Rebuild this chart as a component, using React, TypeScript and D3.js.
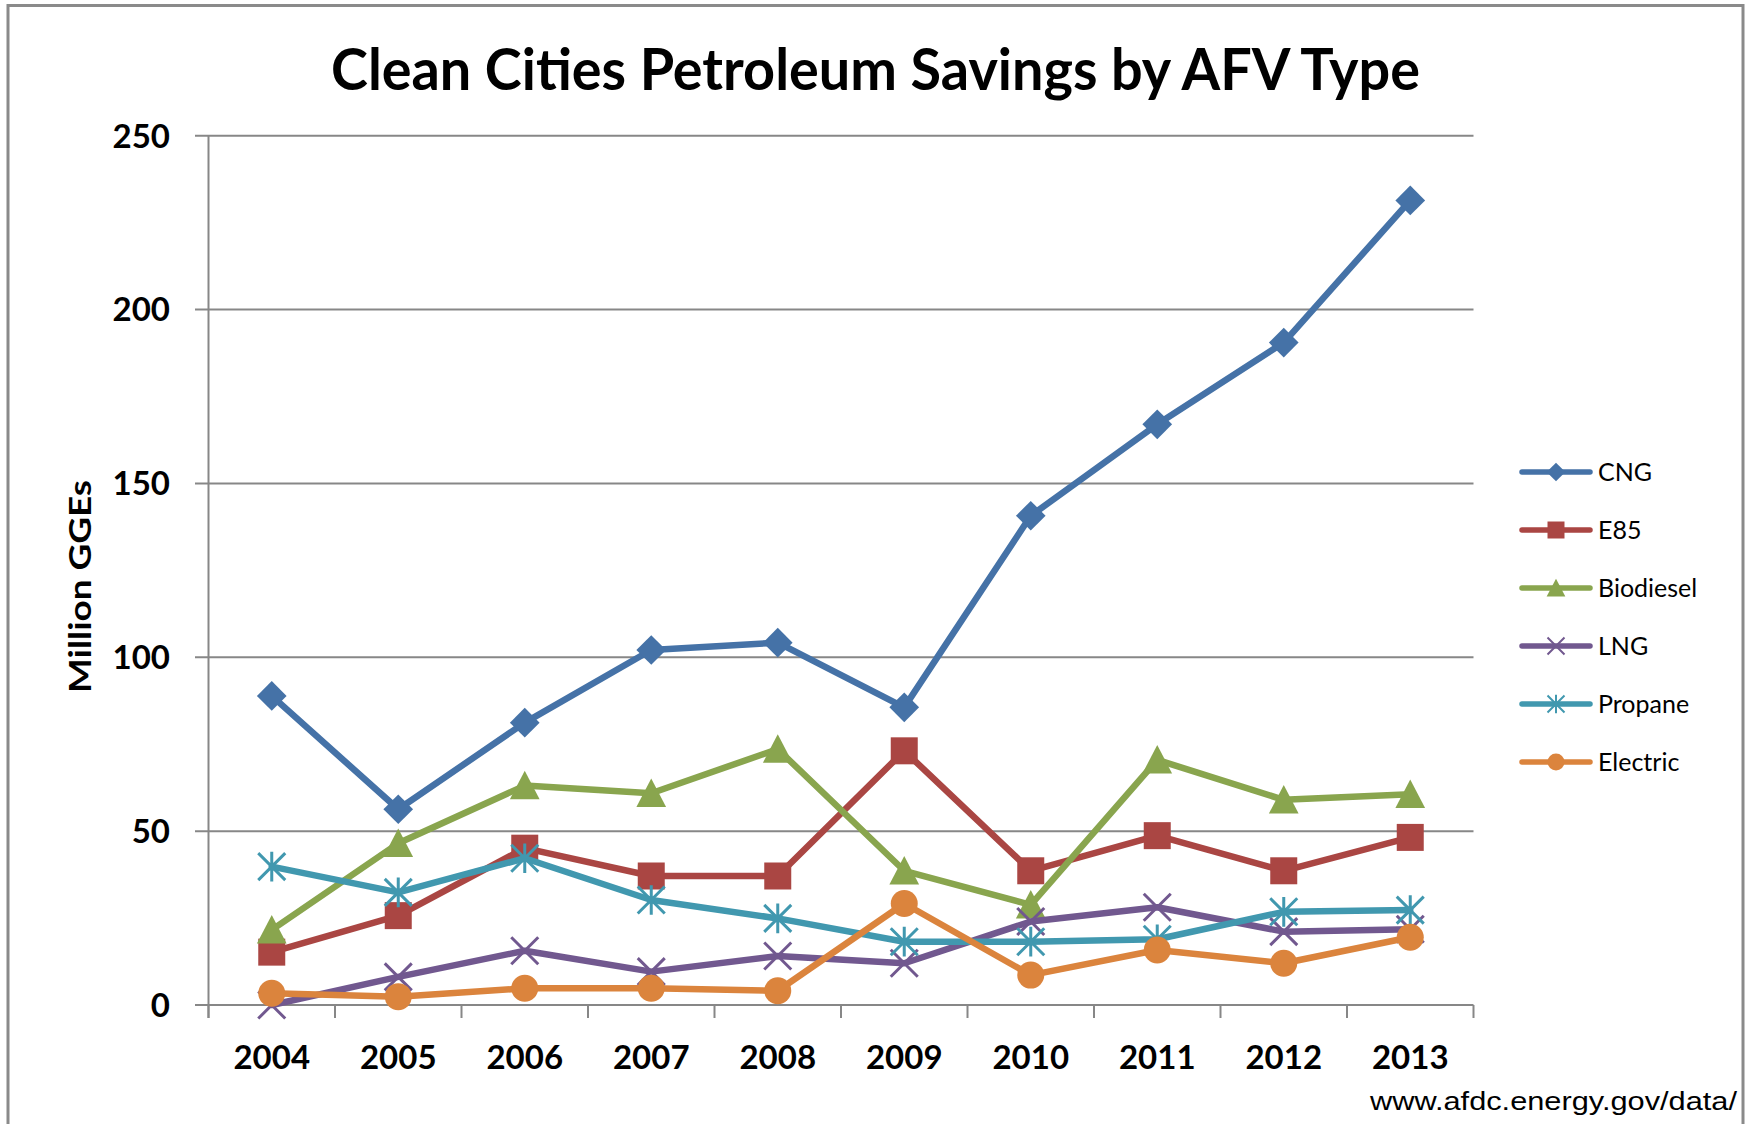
import React, { useEffect } from "react";
import * as d3 from "d3";

const years = ["2004", "2005", "2006", "2007", "2008", "2009", "2010", "2011", "2012", "2013"];
const cng = [88.9, 56.3, 81.2, 102.1, 104.2, 85.6, 140.7, 167.0, 190.5, 231.4];
const e85 = [15.2, 25.7, 45.1, 37.1, 37.1, 73.1, 38.6, 48.7, 38.6, 48.2];
const biodiesel = [21.6, 46.5, 63.1, 60.9, 73.6, 38.6, 28.8, 70.5, 59.0, 60.6];
const lng = [0.0, 8.1, 15.6, 9.6, 14.1, 12.0, 24.0, 28.1, 21.1, 21.8];
const propane = [39.8, 32.4, 42.2, 30.2, 24.9, 18.2, 18.2, 18.9, 26.8, 27.3];
const electric = [3.4, 2.4, 4.8, 4.8, 4.1, 29.2, 8.6, 15.8, 12.0, 19.5];
const yTicks = [0, 50, 100, 150, 200, 250];

const seriesNames = ["CNG", "E85", "Biodiesel", "LNG", "Propane", "Electric"];
const seriesValues = [cng, e85, biodiesel, lng, propane, electric];
const seriesColors = ["#4572A7", "#AA4643", "#89A54E", "#71588F", "#4198AF", "#DB843D"];
const seriesMarkers = ["diamond", "square", "triangle", "x", "star", "circle"];

const W = 1750;
const H = 1124;
const FONT = "Lato, 'Open Sans', sans-serif";

function markerPath(kind: string, cx: number, cy: number, s: number): string {
  const p = d3.path();
  if (kind === "diamond") {
    const h = s * 1.1;
    p.moveTo(cx, cy - h);
    p.lineTo(cx + h, cy);
    p.lineTo(cx, cy + h);
    p.lineTo(cx - h, cy);
    p.closePath();
  } else if (kind === "square") {
    p.rect(cx - s, cy - s, 2 * s, 2 * s);
  } else if (kind === "triangle") {
    const h = s * 1.1;
    p.moveTo(cx, cy - h);
    p.lineTo(cx + h, cy + h * 0.92);
    p.lineTo(cx - h, cy + h * 0.92);
    p.closePath();
  } else if (kind === "circle") {
    p.arc(cx, cy, s, 0, Math.PI * 2);
  } else if (kind === "x") {
    p.moveTo(cx - s, cy - s);
    p.lineTo(cx + s, cy + s);
    p.moveTo(cx + s, cy - s);
    p.lineTo(cx - s, cy + s);
  } else if (kind === "star") {
    p.moveTo(cx - s, cy - s);
    p.lineTo(cx + s, cy + s);
    p.moveTo(cx + s, cy - s);
    p.lineTo(cx - s, cy + s);
    p.moveTo(cx, cy - s * 1.1);
    p.lineTo(cx, cy + s * 1.1);
  }
  return p.toString();
}

function Marker({ kind, cx, cy, s, color, sw }: { kind: string; cx: number; cy: number; s: number; color: string; sw: number }) {
  const stroked = kind === "x" || kind === "star";
  return (
    <path
      d={markerPath(kind, cx, cy, s)}
      fill={stroked ? "none" : color}
      stroke={color}
      strokeWidth={stroked ? sw : 0}
    />
  );
}

export default function App() {
  useEffect(() => {
    document.body.style.margin = "0";
    document.body.style.overflow = "hidden";
  }, []);

  const x = d3.scaleBand<string>().domain(years).range([208.5, 1473.5]).paddingInner(0).paddingOuter(0);
  const y = d3.scaleLinear().domain([0, 250]).range([1005, 135.7]);
  const cxOf = (yr: string) => (x(yr) as number) + x.bandwidth() / 2;
  const line = d3
    .line<number>()
    .x((_, i) => cxOf(years[i]))
    .y((v) => y(v));

  const gridColor = "#878787";
  const boundaries = d3.range(years.length + 1).map((i) => 208.5 + i * x.bandwidth());

  const legendY0 = 472;
  const legendStep = 58;

  return (
    <svg width={W} height={H} style={{ position: "absolute", left: 0, top: 0, background: "#fff" }}>
      <rect x={0} y={0} width={W} height={H} fill="#fff" />
      {/* frame */}
      <rect x={8} y={5.5} width={1735} height={1140} fill="none" stroke="#8a8a8a" strokeWidth={3} />

      {/* title */}
      <text
        x={875.5}
        y={90}
        textAnchor="middle"
        fontFamily={FONT}
        fontWeight={700}
        fontSize={57}
        textLength={1089}
        lengthAdjust="spacingAndGlyphs"
        fill="#000"
      >
        Clean Cities Petroleum Savings by AFV Type
      </text>

      {/* gridlines + y ticks */}
      {yTicks.map((t) => (
        <g key={"g" + t}>
          <line x1={195} x2={1473.5} y1={y(t)} y2={y(t)} stroke={gridColor} strokeWidth={2} />
          <text
            x={170}
            y={y(t)}
            dy="0.36em"
            textAnchor="end"
            fontFamily={FONT}
            fontWeight={700}
            fontSize={33}
            fill="#000"
          >
            {t}
          </text>
        </g>
      ))}
      {/* y axis line */}
      <line x1={208.5} x2={208.5} y1={y(250)} y2={1018} stroke={gridColor} strokeWidth={2} />
      {/* x ticks */}
      {boundaries.map((b, i) => (
        <line key={"xt" + i} x1={b} x2={b} y1={1005} y2={1018} stroke={gridColor} strokeWidth={2} />
      ))}
      {years.map((yr) => (
        <text
          key={"xl" + yr}
          x={cxOf(yr)}
          y={1069}
          textAnchor="middle"
          fontFamily={FONT}
          fontWeight={700}
          fontSize={33}
          fill="#000"
        >
          {yr}
        </text>
      ))}

      {/* y axis title */}
      <text
        transform="translate(91,586.5) rotate(-90)"
        textAnchor="middle"
        fontFamily={FONT}
        fontWeight={700}
        fontSize={30}
        textLength={213}
        lengthAdjust="spacingAndGlyphs"
        fill="#000"
      >
        Million GGEs
      </text>

      {/* series */}
      {seriesValues.map((vals, si) => (
        <g key={"s" + si}>
          <path
            d={line(vals) as string}
            fill="none"
            stroke={seriesColors[si]}
            strokeWidth={6.5}
            strokeLinejoin="round"
            strokeLinecap="round"
          />
          {vals.map((v, i) => (
            <Marker
              key={"m" + i}
              kind={seriesMarkers[si]}
              cx={cxOf(years[i])}
              cy={y(v)}
              s={13.5}
              color={seriesColors[si]}
              sw={3}
            />
          ))}
        </g>
      ))}

      {/* legend */}
      {seriesNames.map((n, si) => {
        const ly = legendY0 + si * legendStep;
        return (
          <g key={"l" + n}>
            <line x1={1522} x2={1590} y1={ly} y2={ly} stroke={seriesColors[si]} strokeWidth={5.5} strokeLinecap="round" />
            <Marker kind={seriesMarkers[si]} cx={1556} cy={ly} s={8.5} color={seriesColors[si]} sw={2} />
            <text x={1598} y={ly} dy="0.36em" fontFamily={FONT} fontSize={25} fill="#000">
              {n}
            </text>
          </g>
        );
      })}

      {/* footer */}
      <text
        x={1737}
        y={1110}
        textAnchor="end"
        fontFamily="'Liberation Sans', Arial, sans-serif"
        fontSize={26}
        textLength={367}
        lengthAdjust="spacingAndGlyphs"
        fill="#000"
      >
        www.afdc.energy.gov/data/
      </text>
    </svg>
  );
}
